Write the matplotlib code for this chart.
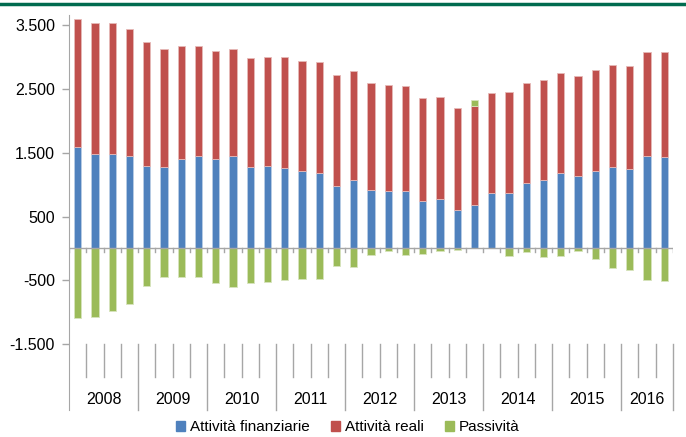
import matplotlib.pyplot as plt
from matplotlib.patches import Patch
import numpy as np

plt.rcParams['font.family'] = ['Liberation Sans Narrow', 'Liberation Sans', 'DejaVu Sans']

years = ["2008", "2009", "2010", "2011", "2012", "2013", "2014", "2015", "2016"]
quarters_per_year = [4, 4, 4, 4, 4, 4, 4, 4, 3]

att_finanziarie = [1594, 1479, 1484, 1442, 1291, 1275, 1406, 1448, 1406, 1442,
                   1280, 1296, 1264, 1207, 1186, 987, 1071, 919, 903, 903,
                   746, 777, 610, 683, 872, 877, 1029, 1076, 1186, 1134,
                   1217, 1280, 1249, 1453, 1427]
att_reali = [2006, 2058, 2053, 2006, 1942, 1859, 1775, 1722, 1696, 1692,
             1707, 1712, 1744, 1733, 1743, 1733, 1706, 1681, 1660, 1644,
             1618, 1603, 1592, 1555, 1570, 1576, 1565, 1571, 1571, 1575,
             1576, 1597, 1607, 1633, 1649]
passivita = [-1084, -1068, -984, -869, -581, -450, -455, -455, -534, -602,
             -534, -518, -492, -482, -471, -272, -293, -110, -42, -110,
             -94, -42, -31, 84, 0, -115, -52, -141, -115, -37,
             -168, -304, -335, -497, -508]

c_blue = "#4F81BD"
c_red = "#C0504D"
c_green = "#9BBB59"
grey = "#A6A6A6"

fin = np.array(att_finanziarie)
rea = np.array(att_reali)
pas = np.array(passivita)
x = np.arange(len(fin))
pas_bottom = np.where(pas > 0, fin + rea, 0)

fig = plt.figure(figsize=(6.86, 4.37), dpi=100)
ax = fig.add_axes([0.1006, 0.0618, 0.8804, 0.9039])

w = 0.42
ax.bar(x, fin, w, color=c_blue, edgecolor="#B9CDE5", linewidth=0.6, zorder=3)
ax.bar(x, rea, w, bottom=fin, color=c_red, edgecolor="#E6B9B8", linewidth=0.6, zorder=3)
ax.bar(x, pas, w, bottom=pas_bottom, color=c_green, edgecolor="#D7E4BD", linewidth=0.6, zorder=3)

ax.set_xlim(-0.5, len(x) - 0.5)
ax.set_ylim(-2532, 3660)

# zero axis with small ticks between quarters
ax.axhline(0, color=grey, lw=1, zorder=4)
for b in np.arange(-0.5, len(x), 1.0):
    ax.plot([b, b], [0, -60], color=grey, lw=1, zorder=4)

# category axis below the plot
edges = np.cumsum([0] + quarters_per_year) - 0.5
for i, yr in enumerate(years):
    start, end = edges[i], edges[i + 1]
    for q in np.arange(start + 1, end, 1.0):
        ax.plot([q, q], [-1500, -2014], color=grey, lw=1, clip_on=False)
    ax.text((start + end) / 2, -2375, yr, ha="center", va="center", fontsize=11.5)
for e in edges[1:]:
    ax.plot([e, e], [-1500, -2532], color=grey, lw=1, clip_on=False)

ax.set_xticks([])
ax.set_yticks([3500, 2500, 1500, 500, -500, -1500])
ax.set_yticklabels(["3.500", "2.500", "1.500", "500", "-500", "-1.500"], fontsize=11.5)
ax.tick_params(axis="y", length=5, color=grey, width=1, pad=5)
for s in ["top", "right", "bottom"]:
    ax.spines[s].set_visible(False)
ax.spines["left"].set_color(grey)

# green rule at the top of the figure
fig.add_artist(plt.Line2D([0, 1], [0.991, 0.991], color="#006B4F", lw=2.5))

handles = [Patch(color=c_blue, label="Attività finanziarie"),
           Patch(color=c_red, label="Attività reali"),
           Patch(color=c_green, label="Passività")]
fig.legend(handles=handles, loc="center", bbox_to_anchor=(0.507, 0.022), ncol=3,
           frameon=False, fontsize=11, handlelength=0.6, handleheight=0.6,
           handletextpad=0.3, columnspacing=1.4)

fig.savefig("out.png", dpi=100)
